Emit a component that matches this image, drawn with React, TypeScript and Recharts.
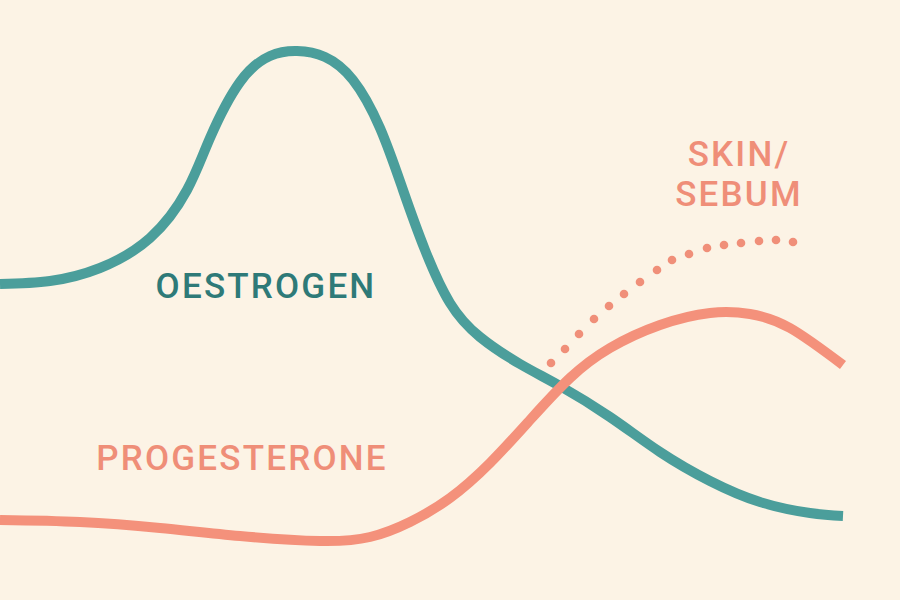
import { LineChart, Line, XAxis, YAxis, ReferenceDot } from 'recharts'

// Cycle position (0-900) vs level (drawn top-down, 0-600)
const oestrogenX = [0, 50, 100, 150, 187, 210, 240, 270, 297, 325, 353, 380, 403, 425, 450, 480, 520, 560, 610, 660, 710, 760, 810, 843]
const oestrogenY = [284, 281, 268, 238, 190, 138, 82, 56, 51, 57, 80, 128, 190, 250, 303, 337, 364, 386, 417, 452, 481, 502, 513, 516]

const progesteroneX = [0, 80, 160, 240, 320, 370, 410, 450, 490, 530, 570, 610, 660, 710, 750, 790, 843]
const progesteroneY = [520, 522, 528, 536, 541, 537, 522, 498, 463, 420, 378, 348, 325, 313, 314, 328, 365]

const sebumX = [551, 565, 579, 594, 609, 624, 640, 657, 672, 689, 707, 724, 741, 759, 776, 793]
const sebumY = [363, 349, 334, 319, 306, 294, 282, 270, 260, 254, 248, 245, 243, 241, 240, 242]

const labels = [
  { lines: ['OESTROGEN'], x: 266, y: 298, color: '#2e7a78' },
  { lines: ['PROGESTERONE'], x: 242, y: 470, color: '#ef8e78' },
  { lines: ['SKIN/', 'SEBUM'], x: 739, y: 166, color: '#ef8e78' },
]

const toPoints = (xs: number[], ys: number[]) => xs.map((x, i) => ({ x, y: ys[i] }))

const oestrogen = toPoints(oestrogenX, oestrogenY)
const progesterone = toPoints(progesteroneX, progesteroneY)
const sebum = toPoints(sebumX, sebumY)

export default function App() {
  return (
    <div style={{ position: 'fixed', left: 0, top: 0, width: 900, height: 600, background: '#fcf3e5' }}>
      <LineChart width={900} height={600} margin={{ top: 0, right: 0, bottom: 0, left: 0 }}>
        <XAxis type="number" dataKey="x" domain={[0, 900]} hide allowDataOverflow />
        <YAxis type="number" dataKey="y" domain={[0, 600]} reversed hide allowDataOverflow />
        <Line
          data={oestrogen}
          dataKey="y"
          type="natural"
          stroke="#4b9e9b"
          strokeWidth={10}
          dot={false}
          activeDot={false}
          isAnimationActive={false}
        />
        <Line
          data={progesterone}
          dataKey="y"
          type="natural"
          stroke="#f4917b"
          strokeWidth={10}
          dot={false}
          activeDot={false}
          isAnimationActive={false}
        />
        <Line
          data={sebum}
          dataKey="y"
          type="monotone"
          stroke="none"
          dot={{ r: 4.3, fill: '#f08f79', stroke: 'none' }}
          activeDot={false}
          isAnimationActive={false}
        />
        {labels.map((l) => (
          <ReferenceDot
            key={l.lines[0]}
            x={l.x}
            y={l.y}
            r={0}
            ifOverflow="visible"
            shape={(p: { cx?: number; cy?: number }) => (
              <text
                x={p.cx}
                y={p.cy}
                textAnchor="middle"
                fill={l.color}
                fontFamily="Roboto, sans-serif"
                fontWeight={500}
                fontSize={35}
                letterSpacing={2.2}
              >
                {l.lines.map((line, i) => (
                  <tspan key={line} x={p.cx} dy={i === 0 ? 0 : 40}>
                    {line}
                  </tspan>
                ))}
              </text>
            )}
          />
        ))}
      </LineChart>
    </div>
  )
}
